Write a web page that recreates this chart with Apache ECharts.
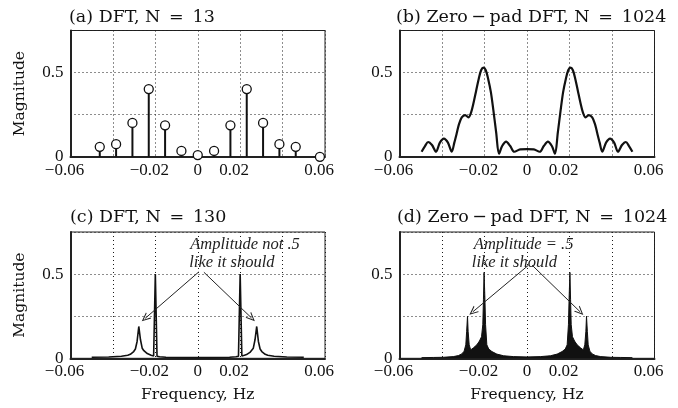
<!DOCTYPE html>
<html><head><meta charset="utf-8">
<script src="https://cdn.jsdelivr.net/npm/echarts@6/dist/echarts.min.js"></script>
<style>html,body{margin:0;padding:0;background:#fff}#c{width:678px;height:408px}</style>
</head><body><div id="c"></div>
<script>
// ---- data ----
const panelTitles = ['(a) DFT, N\u2002=\u200213', '(b) Zero\u2009\u2212\u2009pad DFT, N\u2002=\u20021024', '(c) DFT, N\u2002=\u2002130', '(d) Zero\u2009\u2212\u2009pad DFT, N\u2002=\u20021024'];
const xTickValues = [-0.06, -0.04, -0.02, 0, 0.02, 0.04, 0.06];
const xTickText = ['\u22120.06', '', '\u22120.02', '0', '0.02', '', '0.06'];
const yTickValues = [0, 0.25, 0.5, 0.75];
const yTickText = ['0', '', '0.5', ''];
const xName = 'Frequency, Hz';
const yName = 'Magnitude';

const freqA = [-0.0462, -0.0385, -0.0308, -0.0231, -0.0154, -0.0077, 0, 0.0077, 0.0154, 0.0231, 0.0308, 0.0385, 0.0462, 0.0576];
const magA = [0.059, 0.075, 0.201, 0.402, 0.187, 0.035, 0.010, 0.035, 0.187, 0.402, 0.201, 0.075, 0.059, 0];

const freqB = [-0.0496,-0.0480,-0.0465,-0.0447,-0.0428,-0.0410,-0.0391,-0.0372,-0.0354,-0.0342,-0.0331,-0.0320,-0.0307,-0.0291,-0.0276,-0.0263,-0.0252,-0.0239,-0.0227,-0.0216,-0.0205,-0.0194,-0.0183,-0.0170,-0.0158,-0.0145,-0.0132,-0.0117,-0.0098,-0.0079,-0.0060,-0.0032,0,
  0.0032,0.0060,0.0079,0.0098,0.0117,0.0132,0.0145,0.0158,0.0170,0.0183,0.0194,0.0205,0.0216,0.0227,0.0239,0.0252,0.0263,0.0276,0.0291,0.0307,0.0320,0.0331,0.0342,0.0354,0.0372,0.0391,0.0410,0.0428,0.0447,0.0465,0.0480,0.0496];
const magB = [0.03,0.064,0.088,0.07,0.03,0.084,0.108,0.084,0.03,0.084,0.138,0.194,0.234,0.248,0.234,0.264,0.318,0.394,0.464,0.514,0.530,0.514,0.464,0.384,0.274,0.144,0.018,0.064,0.09,0.064,0.03,0.044,0.046,
  0.044,0.03,0.064,0.09,0.064,0.018,0.144,0.274,0.384,0.464,0.514,0.530,0.514,0.464,0.394,0.318,0.264,0.234,0.248,0.234,0.194,0.138,0.084,0.03,0.084,0.108,0.084,0.03,0.07,0.088,0.064,0.03];

const freqC = [-0.0500,-0.0420,-0.0360,-0.0330,-0.0318,-0.0310,-0.0302,-0.0294,-0.0286,-0.0278,-0.0270,-0.0262,-0.0254,-0.0246,-0.0238,-0.0230,-0.0220,-0.0208,-0.0200,-0.0192,-0.0180,-0.0150,-0.0100,-0.0050,0,
  0.0050,0.0100,0.0150,0.0180,0.0192,0.0200,0.0208,0.0220,0.0230,0.0238,0.0246,0.0254,0.0262,0.0270,0.0278,0.0286,0.0294,0.0302,0.0310,0.0318,0.0330,0.0360,0.0420,0.0500];
const magC = [0.006,0.008,0.012,0.018,0.024,0.030,0.040,0.055,0.100,0.189,0.110,0.060,0.045,0.035,0.028,0.022,0.018,0.014,0.500,0.012,0.009,0.006,0.005,0.004,0.004,
  0.004,0.005,0.006,0.009,0.012,0.500,0.014,0.018,0.022,0.028,0.035,0.045,0.060,0.110,0.189,0.100,0.055,0.040,0.030,0.024,0.018,0.012,0.008,0.006];

const freqD = [-0.0496,-0.0441,-0.0394,-0.0347,-0.0323,-0.0307,-0.0296,-0.0288,-0.0284,-0.0280,-0.0277,-0.0272,-0.0265,-0.0252,-0.0236,-0.0224,-0.0214,-0.0208,-0.0205,-0.0202,-0.0198,-0.0195,-0.0189,-0.0180,-0.0165,-0.0142,-0.0110,-0.0063,0,
  0.0063,0.0110,0.0142,0.0165,0.0180,0.0189,0.0195,0.0198,0.0202,0.0205,0.0208,0.0214,0.0224,0.0236,0.0252,0.0265,0.0272,0.0277,0.0280,0.0284,0.0288,0.0296,0.0307,0.0323,0.0347,0.0394,0.0441,0.0496];
const magD = [0.004,0.005,0.006,0.010,0.016,0.026,0.042,0.080,0.160,0.250,0.160,0.080,0.050,0.062,0.080,0.102,0.128,0.200,0.350,0.510,0.350,0.200,0.080,0.055,0.040,0.025,0.015,0.010,0.008,
  0.010,0.015,0.025,0.040,0.055,0.080,0.200,0.350,0.510,0.350,0.200,0.128,0.102,0.080,0.062,0.050,0.080,0.160,0.250,0.160,0.080,0.042,0.026,0.016,0.010,0.006,0.005,0.004];

const notesC = ['Amplitude not .5', 'like it should'];
const notesD = ['Amplitude = .5', 'like it should'];

// ---- chart ----
const SERIF = '"DejaVu Serif", serif';
const TICKFONT = '"Liberation Serif", serif';
const INK = '#111';
const chart = echarts.init(document.getElementById('c'), null, {renderer: 'canvas'});

function xFmt(v) {
  const i = xTickValues.findIndex(t => Math.abs(t - v) < 1e-9);
  const s = i < 0 ? '' : xTickText[i];
  if (!s) return '';
  return s === '0' ? '{c|0}' : '{s|' + s + '}';
}
function yFmt(v) {
  const i = yTickValues.findIndex(t => Math.abs(t - v) < 1e-9);
  return i < 0 ? '' : yTickText[i];
}
const tickRich = {
  s: {fontFamily: TICKFONT, fontSize: 17, color: INK, padding: [0, 12, 0, 0]},
  c: {fontFamily: TICKFONT, fontSize: 17, color: INK}
};

const grids = [
  {left: 70.5, top: 30.5, width: 254.5, height: 126.3},
  {left: 399.5, top: 30.5, width: 255, height: 126.3},
  {left: 70.5, top: 232, width: 254.5, height: 126.3},
  {left: 399.5, top: 232, width: 255, height: 126.3}
].map(g => Object.assign(g, {show: true, borderColor: '#222', borderWidth: 1, containLabel: false}));

const splitStyle = {show: true, lineStyle: {color: '#1a1a1a', width: 1, type: [1, 3]}};

const xAxes = [0, 1, 2, 3].map(i => ({
  type: 'value', gridIndex: i, min: -0.06, max: 0.06, interval: 0.02,
  axisLine: {show: true, onZero: false, lineStyle: {color: '#222', width: 2}},
  axisTick: {show: false},
  splitLine: splitStyle,
  axisLabel: {formatter: xFmt, rich: tickRich, margin: 5, showMinLabel: true, showMaxLabel: true},
  name: i >= 2 ? xName : '', nameLocation: 'middle', nameGap: 29,
  nameTextStyle: {fontFamily: SERIF, fontSize: 15.5, color: INK}
}));
const yAxes = [0, 1, 2, 3].map(i => ({
  type: 'value', gridIndex: i, min: 0, max: 0.75, interval: 0.25,
  axisLine: {show: true, onZero: false, lineStyle: {color: '#222', width: 2}},
  axisTick: {show: false},
  splitLine: splitStyle,
  axisLabel: {formatter: yFmt, fontFamily: TICKFONT, fontSize: 17, color: INK, margin: 7, showMinLabel: true, showMaxLabel: true},
  name: (i % 2 === 0) ? yName : '', nameLocation: 'middle', nameGap: 43, nameRotate: 90,
  nameTextStyle: {fontFamily: SERIF, fontSize: 15.5, color: INK}
}));

const titlePos = [[69, 8], [396, 8], [70, 208], [397, 208]];
const titles = panelTitles.map((t, i) => ({
  text: t, left: titlePos[i][0], top: titlePos[i][1], padding: 0,
  textStyle: {fontFamily: SERIF, fontSize: 17.5, fontWeight: 'normal', color: INK}
}));

const chevron = 'path://M5,0 L10,11 L8.6,11 L5,3 L1.4,11 L0,11 Z';
function arrows(list) {
  return {
    silent: true, symbol: ['none', chevron], symbolSize: [8, 9],
    label: {show: false}, emphasis: {disabled: true},
    lineStyle: {color: '#222', width: 1, type: 'solid'},
    data: list.map(a => [{coord: a[0]}, {coord: a[1]}])
  };
}
function notes(texts, coords) {
  return {
    silent: true, symbol: 'rect', symbolSize: 1, itemStyle: {color: 'transparent'},
    emphasis: {disabled: true},
    label: {show: true, position: 'inside', fontFamily: '"Liberation Serif", serif', fontStyle: 'italic', fontSize: 16.5, color: '#222'},
    data: texts.map((t, i) => ({coord: coords[i], value: t, label: {formatter: t}}))
  };
}
const pairs = (xs, ys) => xs.map((x, i) => [x, ys[i]]);

const option = {
  animation: false,
  backgroundColor: '#fff',
  title: titles,
  grid: grids,
  xAxis: xAxes,
  yAxis: yAxes,
  series: [
    {type: 'bar', xAxisIndex: 0, yAxisIndex: 0, data: pairs(freqA, magA), barWidth: 2,
     itemStyle: {color: INK}, silent: true},
    {type: 'scatter', xAxisIndex: 0, yAxisIndex: 0, data: pairs(freqA, magA), symbol: 'circle', symbolSize: 9,
     itemStyle: {color: '#fff', borderColor: INK, borderWidth: 1.3, opacity: 1}, z: 5, silent: true},
    {type: 'line', xAxisIndex: 1, yAxisIndex: 1, data: pairs(freqB, magB), showSymbol: false, symbol: 'none',
     smooth: 0.3, lineStyle: {color: INK, width: 2.2}, silent: true},
    {type: 'line', xAxisIndex: 2, yAxisIndex: 2, data: pairs(freqC, magC), showSymbol: false, symbol: 'none',
     lineStyle: {color: INK, width: 1.6}, silent: true,
     markLine: arrows([[[0.0005, 0.513], [-0.0248, 0.237]], [[0.0029, 0.511], [0.0254, 0.239]]]),
     markPoint: notes(notesC, [[0.0223, 0.677], [0.0161, 0.565]])},
    {type: 'line', xAxisIndex: 3, yAxisIndex: 3, data: pairs(freqD, magD), showSymbol: false, symbol: 'none',
     lineStyle: {color: INK, width: 1}, areaStyle: {color: INK, opacity: 1}, silent: true,
     markLine: arrows([[[0.0007, 0.553], [-0.0255, 0.276]], [[0.0024, 0.553], [0.025, 0.276]]]),
     markPoint: notes(notesD, [[-0.0016, 0.677], [-0.0059, 0.565]])}
  ]
};
chart.setOption(option);
</script>
</body></html>
